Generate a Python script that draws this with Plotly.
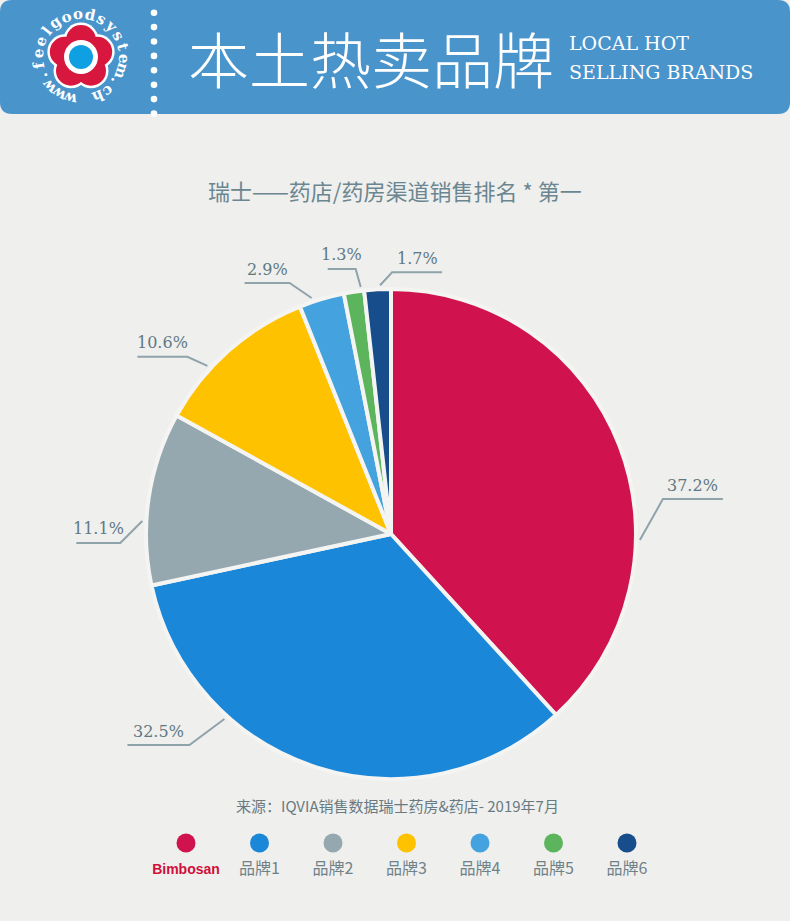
import numpy as np
import plotly.graph_objects as go

# ---------------- data ----------------
brands = ["Bimbosan", "品牌1", "品牌2", "品牌3", "品牌4", "品牌5", "品牌6"]
shares = [37.2, 32.5, 11.1, 10.6, 2.9, 1.3, 1.7]
share_labels = [f"{v}%" for v in shares]
colors = ["#d0134f", "#1b87d9", "#95a8b0", "#fec200", "#44a3df", "#5cb55c", "#164d8a"]

title_text = "瑞士——药店/药房渠道销售排名 * 第一"
source_text = "来源：IQVIA销售数据瑞士药房&药店- 2019年7月"
header_cn = "本土热卖品牌"
header_en = ["LOCAL HOT", "SELLING BRANDS"]
logo_text = "www.feelgoodsystem.ch"

# ---------------- layout constants ----------------
W, H = 790, 921
BG = "#efefed"
CX, CY, R = 391, 534, 245
LABEL_COLOR = "#5f7984"
LINE_COLOR = "#8fa3ab"

# leader-line styling: anchor angle (deg, clockwise from top), elbow offset, horizontal length
leader_style = [
    (91.4, (23, -41), 60),
    (222.0, (-35, 26), -62),
    (273.0, (-22, 22), -44),
    (312.5, (-20, -9), -50),
    (341.4, (-22, -15), -45),
    (353.0, (-5, -18), -28),
    (357.5, (12, -13), 50),
]

fig = go.Figure()

fig.add_trace(go.Pie(
    values=shares, labels=brands, sort=False, direction="clockwise", rotation=0,
    marker=dict(colors=colors, line=dict(color="#f4f4f2", width=4)),
    textinfo="none", hoverinfo="label+percent", showlegend=False,
    domain=dict(x=[(CX - R) / W, (CX + R) / W], y=[1 - (CY + R) / H, 1 - (CY - R) / H]),
))

shapes = []
annotations = []

# header bar
shapes.append(dict(type="path", xref="x", yref="y", layer="below",
                   path="M 0,12 Q 0,0 12,0 L 778,0 Q 790,0 790,12 L 790,102 Q 790,114 778,114 "
                        "L 12,114 Q 0,114 0,102 Z",
                   fillcolor="#4a94cc", line=dict(width=0)))
# dotted separator
for yy in np.arange(12.7, 115, 14.4):
    shapes.append(dict(type="circle", xref="x", yref="y", x0=154 - 3.3, x1=154 + 3.3,
                       y0=yy - 3.3, y1=yy + 3.3, fillcolor="white", line=dict(width=0)))

# logo flower
FX, FY = 81, 57
for rad, col in [(17.5, "white"), (15, "#d7173e")]:
    for k in range(5):
        a = np.radians(k * 72)
        px, py = FX + 17 * np.sin(a), FY - 17 * np.cos(a)
        shapes.append(dict(type="circle", xref="x", yref="y", x0=px - rad, x1=px + rad,
                           y0=py - rad, y1=py + rad, fillcolor=col, line=dict(width=0)))
shapes.append(dict(type="circle", xref="x", yref="y", x0=FX - 17, x1=FX + 17, y0=FY - 17, y1=FY + 17,
                   fillcolor="white", line=dict(width=0)))
shapes.append(dict(type="circle", xref="x", yref="y", x0=FX - 12, x1=FX + 12, y0=FY - 12, y1=FY + 12,
                   fillcolor="#0ea0e2", line=dict(width=0)))
start_ang, span = 195, 322
n = len(logo_text)
for i, ch in enumerate(logo_text):
    ang = start_ang + span * i / (n - 1)
    a = np.radians(ang)
    annotations.append(dict(x=FX + 43 * np.sin(a), y=FY - 43 * np.cos(a), xref="x", yref="y",
                            text=f"<b>{ch}</b>", showarrow=False, textangle=ang % 360,
                            font=dict(family="DejaVu Serif", size=15, color="white")))

# header text
annotations.append(dict(x=186, y=57, xref="x", yref="y", text=header_cn, showarrow=False,
                        xanchor="left", yanchor="middle",
                        font=dict(family="Noto Sans CJK SC", size=61, color="white", weight=300)))
for j, t in enumerate(header_en):
    annotations.append(dict(x=567, y=43 + 29 * j, xref="x", yref="y", text=t, showarrow=False,
                            xanchor="left", yanchor="middle",
                            font=dict(family="DejaVu Serif", size=19, color="white")))

# chart title and source
annotations.append(dict(x=395, y=190, xref="x", yref="y", text=title_text, showarrow=False,
                        font=dict(family="Noto Sans CJK SC", size=22, color="#6b8690")))
annotations.append(dict(x=397, y=805, xref="x", yref="y", text=source_text, showarrow=False,
                        font=dict(family="Noto Sans CJK SC", size=15, color="#687a82")))

# leader lines + labels
for lab, (ang, (dx, dy), hl) in zip(share_labels, leader_style):
    a = np.radians(ang)
    ax_, ay_ = CX + (R + 4) * np.sin(a), CY - (R + 4) * np.cos(a)
    ex, ey = ax_ + dx, ay_ + dy
    fx = ex + hl
    shapes.append(dict(type="path", xref="x", yref="y",
                       path=f"M {ax_:.1f},{ay_:.1f} L {ex:.1f},{ey:.1f} L {fx:.1f},{ey:.1f}",
                       line=dict(color=LINE_COLOR, width=2)))
    annotations.append(dict(x=(ex + fx) / 2, y=ey - 14, xref="x", yref="y", text=lab,
                            showarrow=False, yanchor="middle",
                            font=dict(family="DejaVu Serif", size=16, color=LABEL_COLOR)))

# custom legend
lx = np.linspace(186, 627, len(brands))
fig.add_trace(go.Scatter(x=lx, y=[843] * len(brands), mode="markers", showlegend=False,
                         hoverinfo="skip", marker=dict(size=19, color=colors, line=dict(width=0))))
legend_text = [f"<b>{b}</b>" if i == 0 else b for i, b in enumerate(brands)]
fig.add_trace(go.Scatter(x=lx, y=[870] * len(brands), mode="text", showlegend=False,
                         hoverinfo="skip", text=legend_text,
                         textfont=dict(family=["Liberation Sans"] + ["Noto Sans CJK SC"] * 6,
                                       size=[14] + [16] * 6,
                                       color=["#d0103a"] + ["#6f8289"] * 6)))

fig.update_layout(
    width=W, height=H, margin=dict(l=0, r=0, t=0, b=0),
    paper_bgcolor=BG, plot_bgcolor="rgba(0,0,0,0)",
    xaxis=dict(range=[0, W], visible=False, fixedrange=True, domain=[0, 1]),
    yaxis=dict(range=[H, 0], visible=False, fixedrange=True, domain=[0, 1]),
    shapes=shapes, annotations=annotations,
)

fig.write_html("out.html", config={"displayModeBar": False},
               post_script="document.body.style.margin='0';document.body.style.overflow='hidden';")
